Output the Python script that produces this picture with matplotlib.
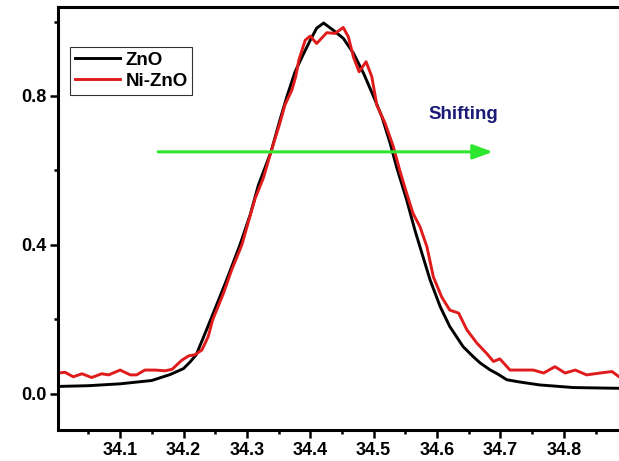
import matplotlib as mlp
import matplotlib.pyplot as plt
import numpy as np

mlp.rcParams['font.family'] = 'Liberation Sans'
mlp.rcParams['font.weight'] = 'bold'

# 2theta (deg) and normalised intensity, ZnO (002) peak
zno_x = [34.002, 34.050, 34.100, 34.150, 34.179, 34.200, 34.210, 34.220, 34.231,
         34.247, 34.268, 34.289, 34.305, 34.318, 34.338, 34.352, 34.363, 34.376,
         34.387, 34.400, 34.410, 34.421, 34.436, 34.452, 34.468, 34.484, 34.500,
         34.513, 34.526, 34.536, 34.552, 34.565, 34.573, 34.589, 34.605, 34.620,
         34.641, 34.657, 34.668, 34.684, 34.694, 34.710, 34.730, 34.762, 34.815,
         34.850, 34.887]
zno_y = [0.020, 0.022, 0.027, 0.036, 0.052, 0.068, 0.085, 0.105, 0.150,
         0.217, 0.306, 0.400, 0.480, 0.560, 0.650, 0.735, 0.798, 0.865,
         0.905, 0.950, 0.982, 0.996, 0.977, 0.955, 0.915, 0.861, 0.798,
         0.744, 0.673, 0.610, 0.521, 0.440, 0.395, 0.306, 0.234, 0.181,
         0.127, 0.100, 0.083, 0.064, 0.055, 0.038, 0.032, 0.024, 0.017,
         0.016, 0.015]

# Ni doped sample
nizno_x = [34.003, 34.013, 34.026, 34.040, 34.055, 34.071, 34.082, 34.100, 34.116,
           34.126, 34.139, 34.155, 34.171, 34.182, 34.197, 34.208, 34.218, 34.229,
           34.239, 34.246, 34.263, 34.276, 34.292, 34.302, 34.313, 34.326, 34.338,
           34.352, 34.360, 34.371, 34.377, 34.382, 34.392, 34.400, 34.410, 34.426,
           34.439, 34.452, 34.460, 34.468, 34.477, 34.488, 34.497, 34.505, 34.518,
           34.531, 34.541, 34.552, 34.562, 34.573, 34.584, 34.594, 34.607, 34.620,
           34.634, 34.647, 34.663, 34.678, 34.689, 34.699, 34.715, 34.736, 34.752,
           34.768, 34.786, 34.802, 34.818, 34.836, 34.857, 34.876, 34.887]
nizno_y = [0.056, 0.058, 0.046, 0.054, 0.044, 0.054, 0.051, 0.064, 0.051,
           0.051, 0.064, 0.064, 0.062, 0.066, 0.090, 0.102, 0.105, 0.118,
           0.154, 0.199, 0.270, 0.333, 0.400, 0.460, 0.525, 0.580, 0.650,
           0.727, 0.776, 0.816, 0.852, 0.897, 0.950, 0.961, 0.941, 0.970,
           0.968, 0.984, 0.959, 0.905, 0.865, 0.892, 0.852, 0.775, 0.727,
           0.664, 0.601, 0.539, 0.485, 0.449, 0.395, 0.315, 0.261, 0.225,
           0.217, 0.172, 0.136, 0.109, 0.087, 0.094, 0.064, 0.064, 0.064,
           0.056, 0.073, 0.056, 0.064, 0.051, 0.056, 0.060, 0.046]

# shift arrow (start, end, height) and its label
arrow_x0, arrow_x1, arrow_y = 34.16, 34.688, 0.65
label_x, label_y = 34.641, 0.749

fig = plt.figure(figsize=(6.19, 4.61), dpi=100)
ax = fig.add_axes([58/619, 31/461, 561/619, 423/461])

ax.plot(zno_x, zno_y, color='black', linewidth=2.1, label='ZnO', solid_joinstyle='round')
ax.plot(nizno_x, nizno_y, color='#e01b1b', linewidth=2.1, label='Ni-ZnO', solid_joinstyle='round')

ax.annotate('', xy=(arrow_x1, arrow_y), xytext=(arrow_x0, arrow_y),
            arrowprops=dict(arrowstyle='-|>,head_length=0.6,head_width=0.22', mutation_scale=20,
                            color='#2ee62e', lw=2.2, shrinkA=0, shrinkB=0))
ax.text(label_x, label_y, 'Shifting', color='#1c1c78', fontsize=13.5, fontweight='bold',
        ha='center', va='center')

#Plot setting
ax.set_xlim(34.002, 34.887)
ax.set_ylim(-0.097, 1.039)
ax.set_xticks(np.arange(34.1, 34.81, 0.1))
ax.set_xticks(np.arange(34.05, 34.9, 0.1), minor=True)
ax.set_yticks([0.0, 0.4, 0.8])
ax.set_yticks([0.2, 0.6, 1.0], minor=True)
ax.set_xticklabels(['%.1f' % t for t in np.arange(34.1, 34.81, 0.1)])
ax.set_yticklabels(['0.0', '0.4', '0.8'])

for side in ['left', 'bottom', 'top']:
    ax.spines[side].set_linewidth(2.2)
ax.spines['right'].set_visible(False)
ax.tick_params(which='major', direction='out', length=5.5, width=1.8, labelsize=13, pad=3)
ax.tick_params(which='minor', direction='out', length=3, width=1.8)

ax.legend(loc='upper left', bbox_to_anchor=(0.0214, 0.905), borderaxespad=0,
          fontsize=13.5, frameon=True, fancybox=False, edgecolor='black',
          handlelength=2.4, handletextpad=0.3, labelspacing=0.2, borderpad=0.25)
ax.get_legend().get_frame().set_linewidth(0.8)

plt.savefig('out.png', dpi=100)
